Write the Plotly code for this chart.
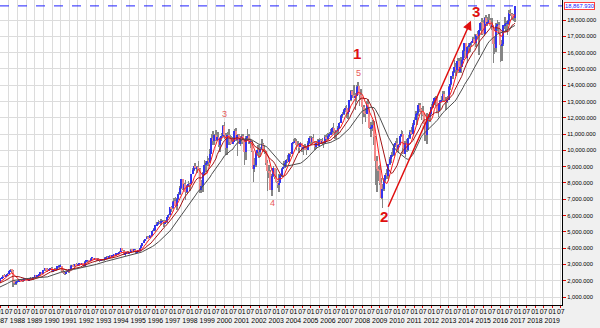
import pandas as pd
import numpy as np
import plotly.graph_objects as go

# Dow Jones Industrial Average, monthly bars, Jan 1985 - Nov 2016
first_open = 1211.57

close = [
    1286.77, 1284.01, 1266.78, 1258.06, 1315.41, 1335.46, 1347.45, 1334.01, 1328.63, 1374.31, 1472.13, 1546.67,
    1570.99, 1709.06, 1818.61, 1783.98, 1876.71, 1892.72, 1775.31, 1898.34, 1767.58, 1877.81, 1914.23, 1895.95,
    2158.04, 2223.99, 2304.69, 2286.36, 2291.57, 2418.53, 2572.07, 2662.95, 2596.28, 1993.53, 1833.55, 1938.83,
    1958.22, 2071.62, 1988.06, 2032.33, 2031.12, 2141.71, 2128.73, 2031.65, 2112.91, 2148.65, 2114.51, 2168.57,
    2342.32, 2258.39, 2293.62, 2418.80, 2480.15, 2440.06, 2660.66, 2737.27, 2692.82, 2645.08, 2706.27, 2753.20,
    2590.54, 2627.25, 2707.21, 2656.76, 2876.66, 2880.69, 2905.20, 2614.36, 2452.48, 2442.33, 2559.65, 2633.66,
    2736.39, 2882.18, 2913.86, 2887.87, 3027.50, 2906.75, 3024.82, 3043.60, 3016.77, 3069.10, 2894.68, 3168.83,
    3223.39, 3267.67, 3235.47, 3359.12, 3396.88, 3318.52, 3393.78, 3257.35, 3271.66, 3226.28, 3305.16, 3301.11,
    3310.03, 3370.81, 3435.11, 3427.55, 3527.43, 3516.08, 3539.47, 3651.25, 3555.12, 3680.59, 3683.95, 3754.09,
    3978.36, 3832.02, 3635.96, 3681.69, 3758.37, 3624.96, 3764.50, 3913.42, 3843.19, 3908.12, 3739.23, 3834.44,
    3843.86, 4011.05, 4157.69, 4321.27, 4465.14, 4556.10, 4708.47, 4610.56, 4789.08, 4755.48, 5074.49, 5117.12,
    5395.30, 5485.62, 5587.14, 5569.08, 5643.18, 5654.63, 5528.91, 5616.21, 5882.17, 6029.38, 6521.70, 6448.27,
    6813.09, 6877.74, 6583.48, 7008.99, 7331.04, 7672.79, 8222.61, 7622.42, 7945.26, 7442.08, 7823.13, 7908.25,
    7906.50, 8545.72, 8799.81, 9063.37, 8899.95, 8952.02, 8883.29, 7539.07, 7842.62, 8592.10, 9116.55, 9181.43,
    9358.83, 9306.58, 9786.16, 10789.04, 10559.74, 10970.80, 10655.15, 10829.28, 10336.95, 10729.86, 10877.81, 11497.12,
    10940.53, 10128.31, 10921.92, 10733.91, 10522.33, 10447.89, 10521.98, 11215.10, 10650.92, 10971.14, 10414.49, 10787.99,
    10887.36, 10495.28, 9878.78, 10734.97, 10911.94, 10502.40, 10522.81, 9949.75, 8847.56, 9075.14, 9851.56, 10021.50,
    9920.00, 10106.13, 10403.94, 9946.22, 9925.25, 9243.26, 8736.59, 8663.50, 7591.93, 8397.03, 8896.09, 8341.63,
    8053.81, 7891.08, 7992.13, 8480.09, 8850.26, 8985.44, 9233.80, 9415.82, 9275.06, 9801.12, 9782.46, 10453.92,
    10488.07, 10583.92, 10357.70, 10225.57, 10188.45, 10435.48, 10139.71, 10173.92, 10080.27, 10027.47, 10428.02, 10783.01,
    10489.94, 10766.23, 10503.76, 10192.51, 10467.48, 10274.97, 10640.91, 10481.60, 10568.70, 10440.07, 10805.87, 10717.50,
    10864.86, 10993.41, 11109.32, 11367.14, 11168.31, 11150.22, 11185.68, 11381.15, 11679.07, 12080.73, 12221.93, 12463.15,
    12621.69, 12268.63, 12354.35, 13062.91, 13627.64, 13408.62, 13211.99, 13357.74, 13895.63, 13930.01, 13371.72, 13264.82,
    12650.36, 12266.39, 12262.89, 12820.13, 12638.32, 11350.01, 11378.02, 11543.55, 10850.66, 9325.01, 8829.04, 8776.39,
    8000.86, 7062.93, 7608.92, 8168.12, 8500.33, 8447.00, 9171.61, 9496.28, 9712.28, 9712.73, 10344.84, 10428.05,
    10067.33, 10325.26, 10856.63, 11008.61, 10136.63, 9774.02, 10465.94, 10014.72, 10788.05, 11118.49, 11006.02, 11577.51,
    11891.93, 12226.34, 12319.73, 12810.54, 12569.79, 12414.34, 12143.24, 11613.53, 10913.38, 11955.01, 12045.68, 12217.56,
    12632.91, 12952.07, 13212.04, 13213.63, 12393.45, 12880.09, 13008.68, 13090.84, 13437.13, 13096.46, 13025.58, 13104.14,
    13860.58, 14054.49, 14578.54, 14839.80, 15115.57, 14909.60, 15499.54, 14810.31, 15129.67, 15545.75, 16086.41, 16576.66,
    15698.85, 16321.71, 16457.66, 16580.84, 16717.17, 16826.60, 16563.30, 17098.45, 17042.90, 17390.52, 17828.24, 17823.07,
    17164.95, 18132.70, 17776.12, 17840.52, 18010.68, 17619.51, 17689.86, 16528.03, 16284.70, 17663.54, 17719.92, 17425.03,
    16466.30, 16516.50, 17685.09, 17773.64, 17787.20, 17929.99, 18432.24, 18400.88, 18308.15, 18142.42, 18867.93,
]

high = [
    1293, 1307, 1300, 1291, 1320, 1340, 1372, 1355, 1345, 1380, 1480, 1559,
    1580, 1720, 1830, 1865, 1885, 1900, 1915, 1905, 1920, 1880, 1930, 1955,
    2170, 2250, 2340, 2420, 2350, 2450, 2590, 2746, 2680, 2660, 2030, 2010,
    2070, 2080, 2110, 2115, 2070, 2180, 2170, 2140, 2130, 2200, 2180, 2195,
    2355, 2360, 2350, 2430, 2510, 2540, 2670, 2760, 2770, 2800, 2720, 2765,
    2830, 2660, 2760, 2780, 2890, 2950, 3030, 2920, 2660, 2550, 2590, 2670,
    2740, 2960, 2980, 3040, 3040, 3060, 3050, 3060, 3060, 3090, 3080, 3180,
    3290, 3290, 3300, 3380, 3420, 3420, 3400, 3400, 3390, 3290, 3320, 3350,
    3330, 3460, 3500, 3490, 3560, 3560, 3590, 3660, 3670, 3700, 3720, 3800,
    3990, 3990, 3900, 3710, 3780, 3800, 3780, 3930, 3960, 3950, 3920, 3850,
    3890, 4020, 4170, 4330, 4480, 4590, 4730, 4720, 4800, 4800, 5100, 5230,
    5410, 5630, 5700, 5690, 5780, 5730, 5730, 5740, 5900, 6100, 6550, 6600,
    6890, 7080, 7110, 7050, 7430, 7800, 8250, 8260, 8000, 8180, 7880, 8150,
    7990, 8560, 8900, 9200, 9210, 9070, 9370, 8900, 8200, 8700, 9380, 9370,
    9650, 9560, 10100, 11000, 11200, 11000, 11250, 11100, 11150, 10800, 11090, 11570,
    11750, 11040, 11100, 11290, 10940, 10870, 10850, 11310, 11400, 11000, 11000, 10900,
    11000, 11000, 10700, 10900, 11340, 11010, 10710, 10560, 9900, 9550, 9900, 10300,
    10300, 10200, 10670, 10450, 10340, 9970, 9400, 9100, 8800, 8540, 9040, 8920,
    8860, 8100, 8520, 8520, 8900, 9350, 9350, 9480, 9690, 9850, 9930, 10480,
    10700, 10760, 10680, 10600, 10300, 10520, 10450, 10350, 10370, 10240, 10570, 10870,
    10860, 10850, 10990, 10600, 10560, 10700, 10750, 10720, 10740, 10600, 10950, 10990,
    11050, 11150, 11320, 11450, 11670, 11250, 11250, 11480, 11740, 12170, 12360, 12530,
    12700, 12800, 12480, 13120, 13690, 13700, 14020, 13500, 14000, 14198, 13950, 13770,
    13280, 12770, 12620, 13010, 13140, 12650, 11750, 11870, 11790, 10880, 9650, 9030,
    9090, 8280, 7930, 8320, 8590, 8880, 9190, 9620, 9920, 10120, 10410, 10580,
    10730, 10400, 10900, 11260, 11210, 10600, 10560, 10720, 10950, 11250, 11450, 11650,
    12020, 12400, 12420, 12880, 12880, 12590, 12750, 12290, 11700, 12280, 12210, 12360,
    12840, 13050, 13290, 13340, 13340, 12900, 13070, 13330, 13660, 13660, 13290, 13350,
    13970, 14150, 14590, 14890, 15540, 15340, 15640, 15660, 15710, 15720, 16170, 16590,
    16590, 16400, 16590, 16630, 16740, 16980, 17150, 17150, 17350, 17400, 17900, 18100,
    18000, 18200, 18290, 18160, 18350, 18140, 18120, 17700, 16930, 17800, 17980, 17860,
    17430, 16800, 17720, 18170, 17950, 18020, 18620, 18670, 18460, 18400, 18867.93,
]

low = [
    1184, 1268, 1247, 1243, 1248, 1298, 1325, 1310, 1298, 1320, 1370, 1458,
    1495, 1565, 1690, 1740, 1755, 1820, 1760, 1760, 1755, 1755, 1850, 1880,
    1890, 2140, 2200, 2200, 2215, 2280, 2400, 2550, 2490, 1616, 1750, 1740,
    1880, 1920, 1970, 1960, 1940, 2025, 2060, 1990, 2000, 2090, 2040, 2080,
    2140, 2230, 2230, 2280, 2390, 2420, 2430, 2640, 2650, 2520, 2600, 2660,
    2540, 2560, 2620, 2630, 2640, 2830, 2850, 2560, 2400, 2340, 2420, 2540,
    2450, 2720, 2830, 2850, 2860, 2880, 2900, 2910, 2990, 2980, 2860, 2860,
    3140, 3200, 3200, 3180, 3330, 3260, 3270, 3220, 3240, 3120, 3210, 3270,
    3240, 3300, 3360, 3350, 3410, 3460, 3480, 3530, 3520, 3540, 3600, 3670,
    3740, 3800, 3600, 3520, 3630, 3610, 3620, 3740, 3820, 3780, 3660, 3680,
    3810, 3840, 3990, 4150, 4310, 4440, 4540, 4590, 4600, 4700, 4740, 5050,
    5000, 5380, 5420, 5480, 5420, 5580, 5300, 5500, 5570, 5880, 6020, 6240,
    6430, 6760, 6560, 6360, 6980, 7260, 7650, 7560, 7600, 6940, 7380, 7740,
    7500, 7880, 8520, 8760, 8840, 8600, 8840, 7400, 7400, 7470, 8560, 8700,
    9050, 9050, 9250, 9760, 10350, 10300, 10590, 10550, 10200, 9890, 10580, 10800,
    10700, 9730, 9730, 10300, 10300, 10400, 10400, 10500, 10600, 9650, 10380, 10270,
    10400, 10400, 9100, 9380, 10600, 10400, 10170, 9900, 8060, 8660, 9000, 9700,
    9560, 9600, 10100, 9900, 9800, 9100, 7530, 8300, 7550, 7200, 8350, 8230,
    7990, 7700, 7420, 7990, 8360, 8850, 8940, 9000, 9250, 9270, 9620, 9780,
    10400, 10450, 10000, 10200, 9850, 10180, 9900, 9700, 10030, 9700, 10020, 10400,
    10350, 10450, 10450, 10000, 10100, 10250, 10250, 10400, 10350, 10150, 10400, 10650,
    10650, 10800, 10940, 11000, 11050, 10700, 10700, 11000, 11300, 11650, 11960, 12180,
    12350, 12000, 11950, 12350, 13050, 13200, 13200, 12500, 13000, 13650, 12700, 13100,
    11630, 12060, 11730, 12220, 12440, 11300, 10830, 11220, 10360, 7880, 7450, 8150,
    7900, 7000, 6470, 7490, 8050, 8220, 8090, 9130, 9250, 9610, 9670, 10220,
    10030, 9830, 10320, 10850, 9770, 9750, 9610, 9930, 9940, 10700, 10920, 10990,
    11570, 11880, 11550, 12090, 12360, 11860, 12090, 10600, 10600, 10400, 11230, 11730,
    12210, 12600, 12760, 12710, 12350, 12040, 12490, 12990, 13040, 13000, 12470, 12880,
    13100, 13700, 14000, 14400, 14740, 14550, 14900, 14760, 14770, 14720, 15530, 15700,
    15690, 15340, 16000, 16010, 16330, 16670, 16560, 16330, 16900, 15860, 17300, 17070,
    17140, 17040, 17630, 17660, 17830, 17600, 17400, 15370, 15940, 16010, 17320, 17140,
    15450, 15500, 16400, 17480, 17330, 17060, 17710, 18270, 17990, 17960, 17880,
]

last_value = 18867.93
ma_periods = [6, 12, 24]
ma_colors = ["#ff1a1a", "#a31414", "#4d4d4d"]
y_ticks = list(range(1000, 19000, 1000))

dates = pd.date_range("1985-01-01", periods=len(close), freq="MS")
c = np.array(close)
o = np.concatenate([[first_open], c[:-1]])   # monthly open = prior month close
h = np.array(high)
l = np.array(low)

up = c >= o
body_base = np.minimum(o, c)
body_len = np.abs(c - o)
body_colors = np.where(up, "#3434ee", "#f28a8a")

MONTH_MS = 30.44 * 24 * 3600 * 1000

fig = go.Figure()

# high-low wicks
fig.add_trace(go.Bar(
    x=dates, y=h - l, base=l, width=0.35 * MONTH_MS,
    marker=dict(color="#858585", line=dict(width=0)),
    hoverinfo="skip",
))
# open-close bodies
fig.add_trace(go.Bar(
    x=dates, y=body_len, base=body_base, width=0.95 * MONTH_MS,
    marker=dict(color=body_colors, line=dict(width=0)),
    hoverinfo="skip",
))

# moving averages of the monthly close
s = pd.Series(c)
for n, col in zip(ma_periods, ma_colors):
    fig.add_trace(go.Scatter(
        x=dates, y=s.rolling(n).mean(), mode="lines",
        line=dict(color=col, width=1), hoverinfo="skip",
    ))

# half-year ticks with year under each January
tick_vals, tick_text = [], []
for yr in range(1987, 2020):
    tick_vals.append(f"{yr}-01-01")
    tick_text.append(f"01<br>{yr}")
    tick_vals.append(f"{yr}-07-01")
    tick_text.append("07")

fig.update_layout(
    width=600, height=328,
    margin=dict(l=0, r=38, t=0, b=23),
    paper_bgcolor="#f0f0f0", plot_bgcolor="white",
    barmode="overlay", bargap=0, showlegend=False,
    font=dict(family="Liberation Sans, Arial, sans-serif", size=6, color="black"),
)
fig.update_xaxes(
    type="date", range=["1986-12-27", "2019-07-26"],
    tickmode="array", tickvals=tick_vals, ticktext=tick_text,
    showgrid=True, gridcolor="#dcdcdc", gridwidth=1,
    ticks="outside", ticklen=2, tickcolor="#e00000", tickwidth=1,
    showline=True, linecolor="black", linewidth=1,
    tickfont=dict(size=6.9), tickangle=0, zeroline=False,
    ticklabeloverflow="allow", ticklabelstandoff=-2, automargin=False,
)
fig.update_yaxes(
    side="right", range=[509, 19230],
    tickmode="array", tickvals=y_ticks, tickformat=",.3f",
    showgrid=True, gridcolor="#dcdcdc", gridwidth=1,
    ticks="outside", ticklen=3, tickcolor="#e00000", tickwidth=1,
    showline=True, linecolor="black", linewidth=1,
    tickfont=dict(size=5.8), zeroline=False, automargin=False,
)

# last value marker line and its price box
fig.add_shape(type="line", xref="paper", x0=0, x1=1, yref="y", y0=last_value, y1=last_value,
              line=dict(color="#2020ff", width=1, dash="dash"))
fig.add_annotation(xref="paper", x=1.003, yref="y", y=last_value, xanchor="left", yanchor="middle",
                   text=f"{last_value:,.3f}", showarrow=False,
                   font=dict(size=5.8, color="#2020ff"), bgcolor="white",
                   bordercolor="#ff4040", borderwidth=1, borderpad=0)

# wave labels
big = dict(family="Liberation Sans, Arial, sans-serif", size=15, color="#e01010")
small = dict(family="Liberation Sans, Arial, sans-serif", size=9, color="#e85a5a")
fig.add_annotation(x="2007-09-01", y=15950, text="<b>1</b>", showarrow=False, font=big)
fig.add_annotation(x="2007-10-01", y=14350, yanchor="bottom", text="5", showarrow=False, font=small)
fig.add_annotation(x="2009-04-01", y=5950, text="<b>2</b>", showarrow=False, font=big)
fig.add_annotation(x="2014-08-01", y=18500, text="<b>3</b>", showarrow=False, font=big)
fig.add_annotation(x="2000-01-01", y=11800, yanchor="bottom", text="3", showarrow=False, font=small)
fig.add_annotation(x="2002-10-15", y=6800, text="4", showarrow=False, font=small)

# impulse arrow from the 2009 low toward wave 3
fig.add_annotation(x="2014-04-15", y=17950, ax="2009-06-15", ay=6450,
                   xref="x", yref="y", axref="x", ayref="y", text="",
                   showarrow=True, arrowhead=2, arrowsize=1.2, arrowwidth=1.5, arrowcolor="#e01010")

fig.write_html("out.html")
